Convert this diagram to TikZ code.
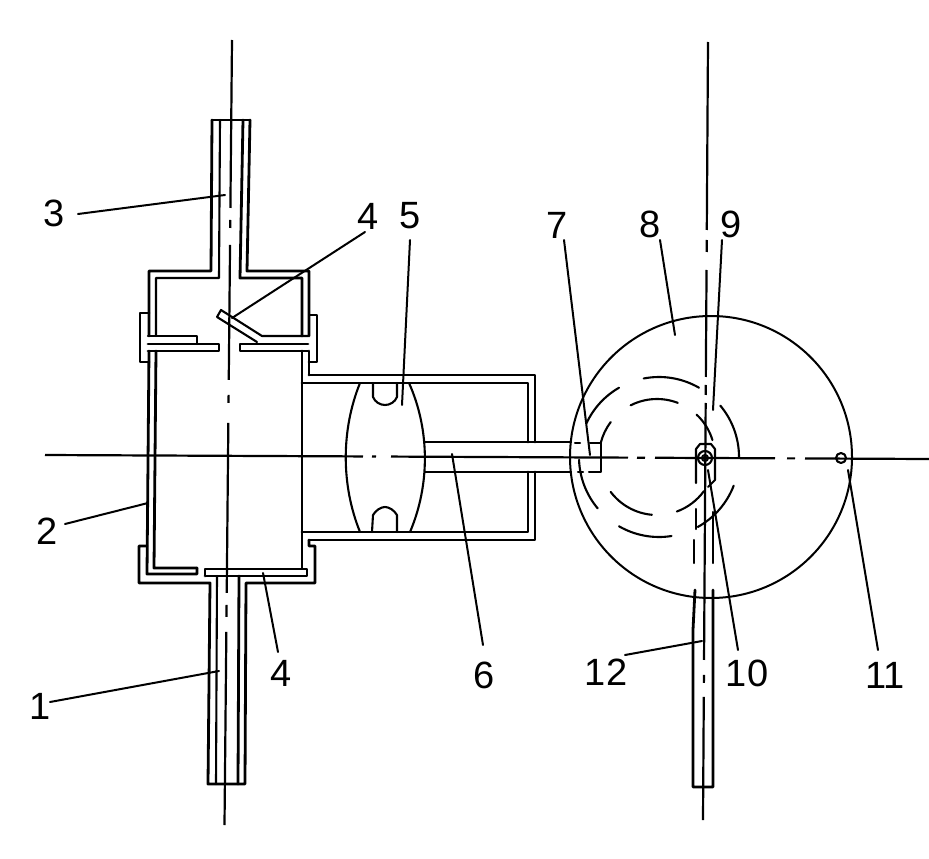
\documentclass[tikz,border=0pt]{standalone}
\usepackage{fontspec}
\setmainfont{Liberation Sans}
\tikzset{
 wall/.style={line width=2.8pt,line cap=round,line join=round},
 thin wall/.style={line width=2.1pt,line cap=round,line join=round},
 centre/.style={line width=2.2pt},
 leader/.style={line width=2pt,line cap=round},
 lbl/.style={font=\fontsize{38}{38}\selectfont,inner sep=0pt,text=black},
 dasharc/.style={line width=2.1pt,line cap=round}
}
\begin{document}
\begin{tikzpicture}[x=1pt,y=-1pt]
\useasboundingbox (0,0) rectangle (929,859);
% vessel outer / inner, top
\draw[wall] (212,120) -- (250,120);
\draw[wall] (212,120) -- (211,271) -- (149,271) -- (149,336);
\draw[wall] (250,120) -- (247,271) -- (309,271) -- (309,336);
\draw[thin wall] (220,120) -- (219,278) -- (156,278) -- (156,336);
\draw[wall] (243,120) -- (240,278) -- (302,278) -- (302,336);
% flanges top
\draw[wall] (149,313) -- (140,313) -- (140,362) -- (149,362);
\draw[wall] (310,315) -- (317,315) -- (317,362) -- (309,362);
% valve plates
\draw[thin wall] (148,336) -- (197,336) -- (197,344);
\draw[wall] (148,344) -- (219,344) -- (219,351) -- (148,351);
\draw[wall] (308,344) -- (240,344) -- (240,351) -- (308,351);
\draw[thin wall] (308,336) -- (262,336) -- (221,310) -- (217,317) -- (257,342);
% body walls
\draw[wall] (149,351) -- (147,574) -- (197,574) -- (197,568);
\draw[wall] (156,351) -- (154,568) -- (197,568);
\draw[wall] (302,351) -- (302,568);
\draw[wall] (309,351) -- (309,375);
% bottom flanges and plate
\draw[wall] (205,576) -- (205,569) -- (307,569) -- (307,576) -- (205,576);
\draw[wall] (147,546) -- (139,546) -- (139,583) -- (210,583) -- (208,784) -- (245,784) -- (246,583) -- (315,583) -- (315,546) -- (309,546) -- (309,540);
\draw[thin wall] (217,576) -- (216,784);
\draw[wall] (239,576) -- (238,784);
% side chamber
\draw[wall] (309,375) -- (535,375) -- (535,442);
\draw[wall] (302,383) -- (528,383) -- (528,442);
\draw[wall] (528,472) -- (528,532) -- (302,532);
\draw[wall] (535,472) -- (535,540) -- (309,540);
% rod
\draw[thin wall] (425,442) -- (571,442);
\draw[thin wall] (425,472) -- (571,472);
% piston
\draw[thin wall] (360,383) .. controls (341,430) and (341,485) .. (360,532);
\draw[thin wall] (409,383) .. controls (430,430) and (430,485) .. (410,532);
\draw[thin wall] (373,383) -- (373,397) .. controls (375,402) and (380,405) .. (385,405) .. controls (390,405) and (395,402) .. (397,397) -- (397,383);
\draw[thin wall] (372,532) -- (373,515) .. controls (376,510) and (381,507) .. (385,507) .. controls (389,507) and (394,510) .. (397,515) -- (397,532);
% big wheel
\draw[line width=2pt] (711,457) circle (141);
% eccentric dashed circles
\foreach \a/\b in {101/60,120/155,182/220,240/279,299/339,0/40}
  \draw[dasharc] (659,457) ++(\a:80 and -80) arc[start angle=\a,end angle=\b,x radius=80,y radius=-80];
\foreach \a/\b in {117/69,47/17,143/166,217/265,290/324}
  \draw[dasharc] (657,457) ++(\a:58 and -58) arc[start angle=\a,end angle=\b,x radius=58,y radius=-58];
% part 7
\draw[thin wall] (575,443) -- (580,443) (590,443) -- (601,443) -- (601,472) -- (589,472) (578,472) -- (583,472);
% slider
\draw[thin wall] (696,483) -- (696,449) -- (700,444) -- (711,444) -- (715,449) -- (715,480) -- (708,487);
\draw[thin wall] (705,458) circle (7);
\draw[thin wall] (705,458) circle (3);
\draw[thin wall] (696,509) -- (696,529);
\draw[thin wall] (694,540) -- (694,563);
\draw[thin wall] (713,512) -- (713,563);
% lower bar
\draw[wall] (695,590) -- (693,630) -- (693,787) -- (713,787) -- (713,590);
% pivot 11
\draw[thin wall] (841,458) circle (5);
% centre lines
\draw[centre,dash pattern=on 318pt off 9pt on 4pt off 15pt on 237pt off 9pt on 8pt off 10pt on 120pt off 12pt on 8pt off 10pt on 200pt] (45,455) -- (929,459);
\draw[centre,dash pattern=on 168pt off 12pt on 8pt off 17pt on 135pt off 15pt on 8pt off 20pt on 170pt off 12pt on 12pt off 15pt on 300pt] (232,40) -- (224.5,825);
\draw[centre,dash pattern=on 188pt off 10pt on 12pt off 18pt on 107pt off 8pt on 10pt off 8pt on 257pt off 15pt on 8pt off 14pt on 300pt] (708,42) -- (703,820);
% labels
\node[lbl] (n3) at (54,213) {3};
\node[lbl] (n4a) at (368,216) {4};
\node[lbl] (n5) at (410,216) {5};
\node[lbl] (n7) at (557,225) {7};
\node[lbl] (n8) at (650,224) {8};
\node[lbl] (n9) at (731,224) {9};
\node[lbl] (n2) at (47,531) {2};
\node[lbl] (n1) at (40,706) {1};
\node[lbl] (n4b) at (281,673) {4};
\node[lbl] (n6) at (484,675) {6};
\node[lbl] (n12) at (606,672) {12};
\node[lbl] (n10) at (747,673) {10};
\node[lbl] (n11) at (885,675) {11};
\coordinate (e3) at (225,195);
\coordinate (e4a) at (232,318);
\coordinate (e5) at (402,405);
\coordinate (e7) at (590,455);
\coordinate (e8) at (675,335);
\coordinate (e9) at (713,410);
\coordinate (e2) at (148,503);
\coordinate (e1) at (219,671);
\coordinate (e4b) at (263,573);
\coordinate (e6) at (452,454);
\coordinate (e12) at (702,641);
\coordinate (e10) at (708,470);
\coordinate (e11) at (848,470);
\draw[leader] (78,214) -- (e3);
\draw[leader] (365,232) -- (e4a);
\draw[leader] (410,240) -- (e5);
\draw[leader] (564,240) -- (e7);
\draw[leader] (660,240) -- (e8);
\draw[leader] (722,240) -- (e9);
\draw[leader] (65,524) -- (e2);
\draw[leader] (50,702) -- (e1);
\draw[leader] (278,652) -- (e4b);
\draw[leader] (483,645) -- (e6);
\draw[leader] (625,655) -- (e12);
\draw[leader] (738,650) -- (e10);
\draw[leader] (878,650) -- (e11);
\end{tikzpicture}
\end{document}
